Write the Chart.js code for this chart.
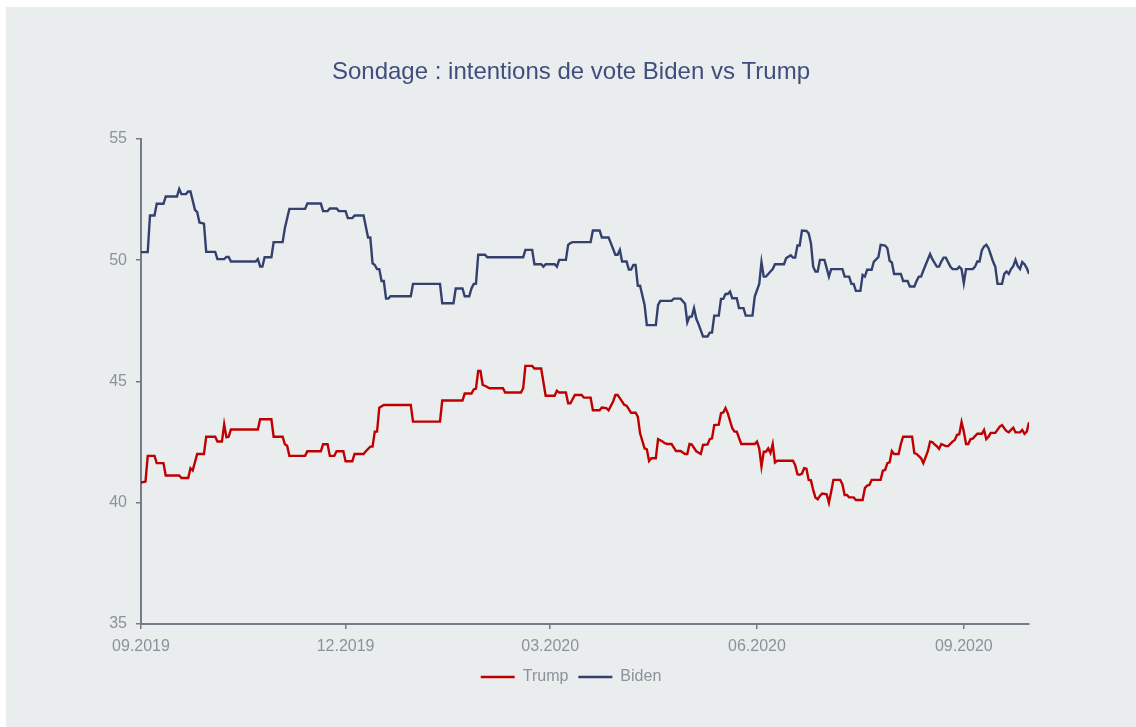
<!DOCTYPE html>
<html>
<head>
<meta charset="utf-8">
<script src="https://cdn.jsdelivr.net/npm/chart.js@4.4.1/dist/chart.umd.min.js"></script>
<style>
    body { margin: 0; background: #ffffff; }
    #panel {
        position: absolute; left: 6px; top: 7px;
        width: 1130px; height: 720px;
        background: #e9edee;
    }
</style>
</head>
<body>
<div id="panel"><canvas id="pollChart"></canvas></div>
<script>
// days counted from 01.09.2019
const tickDays = [0, 91, 182, 274, 366];
const tickLabels = ['09.2019', '12.2019', '03.2020', '06.2020', '09.2020'];

const trumpDays = [0, 2, 3, 6, 7, 10, 11, 17, 18, 21, 22, 23, 25, 28, 29, 33, 34, 36, 37, 38, 39, 40,
    52, 53, 58, 59, 63, 64, 65, 66, 73, 74, 80, 81, 83, 84, 86, 87, 90, 91, 94, 95, 99, 100, 102, 103,
    104, 105, 106, 108, 120, 121, 133, 134, 143, 144, 147, 148, 149, 150, 151, 152, 153, 155, 161, 162,
    169, 170, 171, 174, 175, 178, 180, 184, 185, 186, 189, 190, 191, 193, 196, 197, 200, 201, 204, 205,
    207, 208, 210, 211, 212, 213, 215, 216, 218, 220, 221, 222, 224, 225, 226, 227, 229, 230, 232, 233,
    234, 236, 238, 240, 242, 243, 244, 245, 247, 249, 250, 252, 253, 254, 255, 257, 258, 259, 260, 261,
    263, 264, 265, 267, 273, 274, 275, 276, 277, 278, 279, 280, 281, 282, 283, 290, 291, 292, 293, 294,
    295, 296, 297, 298, 299, 300, 301, 302, 303, 305, 306, 307, 308, 311, 312, 313, 314, 315, 317, 318,
    321, 322, 323, 324, 325, 329, 330, 331, 332, 333, 334, 335, 337, 338, 339, 343, 344, 345, 347, 348,
    350, 351, 352, 353, 354, 355, 356, 358, 359, 361, 362, 363, 364, 365, 366, 367, 368, 369, 370, 372,
    374, 375, 376, 377, 378, 380, 382, 383, 384, 385, 386, 387, 388, 389, 391, 392, 393, 394, 395];
const trumpValues = [40.83, 40.87, 41.93, 41.93, 41.63, 41.63, 41.12, 41.12, 41.02, 41.02, 41.42, 41.33,
    42.01, 42.01, 42.72, 42.72, 42.52, 42.52, 43.23, 42.7, 42.72, 43.02,
    43.02, 43.44, 43.44, 42.72, 42.72, 42.41, 42.35, 41.93, 41.93, 42.12, 42.12, 42.41, 42.41, 41.93,
    41.93, 42.12, 42.12, 41.71, 41.71, 42.01, 42.01, 42.12, 42.31, 42.31,
    42.93, 42.93, 43.92, 44.03, 44.03, 43.34, 43.34, 44.21, 44.21, 44.5, 44.5, 44.67, 44.7, 45.43, 45.43,
    44.86, 44.82, 44.72, 44.72, 44.54,
    44.54, 44.72, 45.64, 45.64, 45.53, 45.53, 44.41, 44.41, 44.62, 44.54, 44.54, 44.1, 44.1, 44.44, 44.44,
    44.33, 44.33, 43.81, 43.81, 43.92,
    43.9, 43.81, 44.17, 44.44, 44.44, 44.31, 44.03, 44.0, 43.71, 43.71, 43.55, 42.86, 42.24, 42.2, 41.72,
    41.83, 41.83, 42.62, 42.52, 42.45,
    42.42, 42.42, 42.13, 42.13, 42.01, 42.01, 42.42, 42.4, 42.12, 42.01, 42.38, 42.4, 42.62, 42.65, 43.2,
    43.22, 43.69, 43.72, 43.9, 43.69,
    43.07, 42.93, 42.93, 42.42, 42.42, 42.52, 42.24, 41.49, 42.1, 42.1, 42.24, 42.05, 42.42, 41.66, 41.73,
    41.73, 41.55, 41.17, 41.15, 41.2,
    41.42, 41.4, 40.94, 40.92, 40.53, 40.21, 40.14, 40.28, 40.38, 40.35, 40.0, 40.45, 40.94, 40.94, 40.76,
    40.32, 40.32, 40.22, 40.22, 40.11,
    40.11, 40.6, 40.71, 40.73, 40.94, 40.94, 41.32, 41.35, 41.63, 41.66, 42.13, 42.01, 42.01, 42.42, 42.72,
    42.72, 42.04, 42.01, 41.83, 41.63,
    42.12, 42.52, 42.5, 42.4, 42.33, 42.22, 42.42, 42.33, 42.33, 42.52, 42.59, 42.8, 42.82, 43.32, 42.93,
    42.42, 42.42, 42.62, 42.64, 42.84,
    42.84, 43.0, 42.62, 42.72, 42.88, 42.88, 43.14, 43.2, 43.07, 42.95, 42.9, 43.0, 43.09, 42.9, 42.9,
    43.0, 42.84, 42.93, 43.32];

const bidenDays = [0, 3, 4, 6, 7, 10, 11, 16, 17, 18, 20, 21, 22, 24, 25, 26, 28, 29, 33, 34, 37, 38, 39, 40,
    51, 52, 53, 54, 55, 58, 59, 63, 64, 66, 73, 74, 80, 81, 83, 84, 87, 88, 91, 92, 94, 95, 99, 101, 102,
    103, 104, 105, 106, 107, 108, 109, 110, 111, 120, 121, 133, 134, 139, 140, 143, 144, 146, 147, 148,
    149, 150, 153, 154, 170, 171, 174, 175, 178, 179, 180, 184, 185, 186, 189, 190, 191, 192, 200, 201,
    204, 205, 208, 209, 211, 212, 213, 214, 216, 217, 218, 219, 220, 221, 222, 224, 225, 229, 230, 231,
    236, 237, 240, 242, 243, 244, 245, 246, 247, 248, 250, 252, 253, 254, 255, 257, 258, 259, 260, 261,
    262, 263, 265, 266, 268, 269, 272, 273, 275, 276, 277, 278, 280, 281, 282, 286, 287, 289, 290, 291,
    292, 293, 294, 296, 297, 298, 299, 300, 301, 302, 304, 305, 306, 307, 312, 313, 315, 316, 317, 318,
    320, 321, 322, 323, 325, 326, 328, 329, 331, 332, 333, 334, 335, 338, 339, 341, 342, 344, 345, 346,
    347, 348, 349, 351, 352, 354, 355, 356, 357, 358, 360, 361, 363, 364, 365, 366, 367, 370, 371, 372,
    373, 374, 375, 376, 377, 378, 379, 380, 381, 383, 384, 385, 386, 387, 388, 389, 390, 391, 392, 393,
    394, 395];
const bidenValues = [50.33, 50.33, 51.84, 51.84, 52.32, 52.32, 52.62, 52.62, 52.93, 52.72, 52.72, 52.83,
    52.83, 52.07, 51.98, 51.55, 51.5, 50.34, 50.34, 50.04, 50.04, 50.13, 50.13, 49.94,
    49.94, 50.04, 49.73, 49.73, 50.12, 50.12, 50.74, 50.74, 51.32, 52.11, 52.11, 52.33, 52.33, 52.02, 52.02,
    52.13, 52.13, 52.02, 52.02, 51.73, 51.73, 51.84, 51.84, 50.93, 50.93,
    49.87, 49.8, 49.63, 49.63, 49.14, 49.14, 48.41, 48.41, 48.51, 48.51, 49.02, 49.02, 48.22, 48.22, 48.83,
    48.83, 48.51, 48.51, 48.83, 49.02,
    49.02, 50.22, 50.22, 50.12, 50.12, 50.42, 50.42, 49.83, 49.83, 49.73, 49.83, 49.83, 49.73, 50.01, 50.01,
    50.63, 50.7, 50.74, 50.74, 51.22,
    51.22, 50.93, 50.93, 50.7, 50.22, 50.22, 50.42, 49.94, 49.94, 49.61, 49.61, 49.8, 49.8, 48.94, 48.94,
    48.15, 47.32, 47.32, 48.15, 48.32,
    48.32, 48.41, 48.41, 48.2, 47.43, 47.67, 47.67, 48.02, 47.58, 47.36, 46.85, 46.85, 47.01, 47.01, 47.71,
    47.71, 48.4, 48.4, 48.6, 48.6,
    48.7, 48.43, 48.43, 48.02, 48.02, 47.71, 47.71, 48.5, 49.02, 49.92, 49.32, 49.32, 49.53, 49.63, 49.83,
    49.83, 50.08, 50.2, 50.1, 50.1,
    50.6, 50.6, 51.22, 51.2, 51.1, 50.7, 49.73, 49.53, 49.53, 50.01, 50.01, 49.67, 49.32, 49.63, 49.63,
    49.32, 49.32, 49.02, 49.02, 48.73,
    48.73, 49.39, 49.32, 49.6, 49.6, 49.94, 50.12, 50.63, 50.6, 50.49, 49.97, 49.9, 49.43, 49.43, 49.14,
    49.14, 48.91, 48.91, 49.14, 49.32,
    49.32, 49.57, 49.8, 50.25, 50.04, 49.73, 49.73, 49.94, 50.1, 50.1, 49.73, 49.63, 49.63, 49.73, 49.63,
    49.05, 49.63, 49.63, 49.73, 49.94,
    49.94, 50.4, 50.56, 50.63, 50.49, 50.22, 49.94, 49.73, 49.02, 49.02, 49.43, 49.53, 49.43, 49.63, 49.75,
    50.01, 49.75, 49.63, 49.92, 49.83,
    49.67, 49.43];

const axisColor = '#757c87';
const labelColor = '#8c929a';
const fontFamily = '"Liberation Sans", Arial, Helvetica, sans-serif';

function toPoints(days, values) {
    return days.map((d, i) => ({ x: d, y: values[i] }));
}

const ctx = document.getElementById('pollChart').getContext('2d');

const pollChart = new Chart(ctx, {
    type: 'line',
    data: {
        datasets: [{
            label: 'Trump',
            data: toPoints(trumpDays, trumpValues),
            borderColor: '#c00000',
            backgroundColor: '#c00000',
            borderWidth: 2.4,
            pointRadius: 0,
            tension: 0,
        }, {
            label: 'Biden',
            data: toPoints(bidenDays, bidenValues),
            borderColor: '#34416f',
            backgroundColor: '#34416f',
            borderWidth: 2.4,
            pointRadius: 0,
            tension: 0,
        }]
    },
    options: {
        responsive: true,
        maintainAspectRatio: false,
        animation: false,
        layout: {
            padding: { top: 51, right: 0, bottom: 32, left: 0 }
        },
        plugins: {
            title: {
                display: true,
                text: 'Sondage : intentions de vote Biden vs Trump',
                color: '#3f4e7d',
                font: { family: fontFamily, size: 24, weight: 'normal' },
                padding: { top: 0, bottom: 52 },
            },
            legend: {
                position: 'bottom',
                labels: {
                    usePointStyle: true,
                    pointStyle: 'line',
                    pointStyleWidth: 34,
                    color: labelColor,
                    font: { family: fontFamily, size: 16 },
                    padding: 10,
                },
            },
            tooltip: { enabled: false },
        },
        scales: {
            x: {
                type: 'linear',
                min: 0,
                max: 395,
                afterBuildTicks: (axis) => {
                    axis.ticks = tickDays.map((d) => ({ value: d }));
                },
                afterFit: (axis) => { axis.height = 35; },
                ticks: {
                    color: labelColor,
                    font: { family: fontFamily, size: 16 },
                    padding: 8,
                    maxRotation: 0,
                    autoSkip: false,
                    callback: (value) => tickLabels[tickDays.indexOf(value)],
                },
                grid: {
                    drawOnChartArea: false,
                    drawTicks: true,
                    tickLength: 5,
                    color: axisColor,
                    lineWidth: 1.5,
                },
                border: { display: true, color: axisColor, width: 2 },
            },
            y: {
                min: 35,
                max: 55,
                afterFit: (axis) => { axis.width = 135; },
                ticks: {
                    stepSize: 5,
                    color: labelColor,
                    font: { family: fontFamily, size: 16 },
                    padding: 9,
                },
                grid: {
                    drawOnChartArea: false,
                    drawTicks: true,
                    tickLength: 5,
                    color: axisColor,
                    lineWidth: 1.5,
                },
                border: { display: true, color: axisColor, width: 2 },
            },
            // empty right-hand axis keeps the free margin on the right
            spacer: {
                position: 'right',
                afterFit: (axis) => { axis.width = 107; },
                ticks: { display: false },
                grid: { display: false },
                border: { display: false },
            },
        },
    },
});
</script>
</body>
</html>
